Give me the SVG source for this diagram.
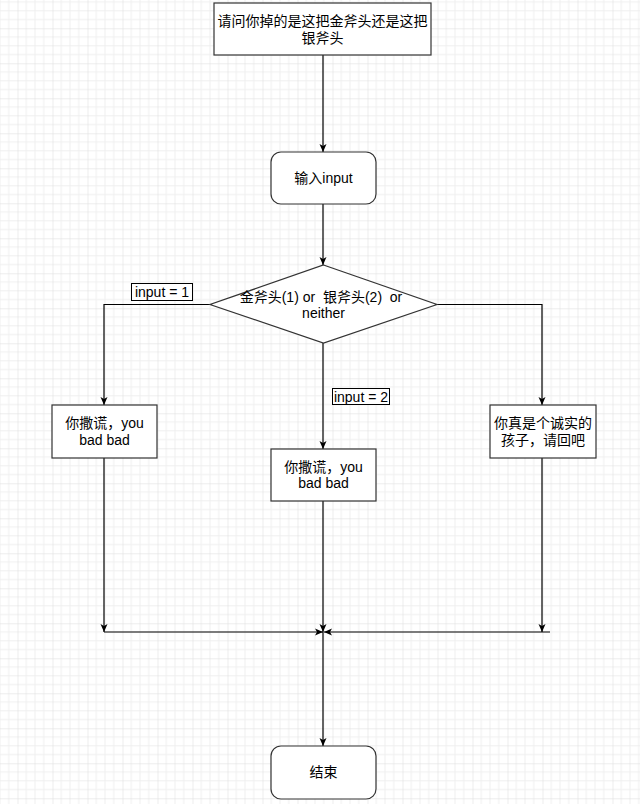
<svg xmlns="http://www.w3.org/2000/svg" width="640" height="804" viewBox="0 0 640 804">
<style>
.box{fill:#fff;stroke:#333;stroke-width:1.2}
.lbl{fill:#fff;stroke:#000;stroke-width:1}
.t{font-family:"Liberation Sans","Noto Sans CJK SC",sans-serif;font-size:14px;fill:#000;text-anchor:middle;white-space:pre}
.e{fill:none;stroke:#000;stroke-width:1.2}
</style>
<defs>
<pattern id="grid" patternUnits="userSpaceOnUse" x="17.5" y="28.3" width="35" height="35">
<path d="M8.75,0V35M17.5,0V35M26.25,0V35M0,8.75H35M0,17.5H35M0,26.25H35" stroke="#efefef" stroke-width="1" fill="none"/>
<path d="M0,0V35M0,0H35" stroke="#dcdcdc" stroke-width="1" fill="none"/>
</pattern>
<marker id="arr" viewBox="0 0 8 8" refX="8" refY="4" markerWidth="8" markerHeight="8" markerUnits="userSpaceOnUse" orient="auto">
<path d="M0,0.5L8,4L0,7.5L2,4z" fill="#000"/>
</marker>
</defs>
<rect width="640" height="804" fill="#fff"/>
<rect width="640" height="804" fill="url(#grid)"/>
<g id="edges">
<path class="e" d="M323,55V152" marker-end="url(#arr)"/>
<path class="e" d="M323,204V265" marker-end="url(#arr)"/>
<path class="e" d="M210,304.5H104V405" marker-end="url(#arr)"/>
<path class="e" d="M323,343V449" marker-end="url(#arr)"/>
<path class="e" d="M437,304.5H542V405" marker-end="url(#arr)"/>
<path class="e" d="M104,458V632" marker-end="url(#arr)"/>
<path class="e" d="M104,632H323" marker-end="url(#arr)"/>
<path class="e" d="M323,501V632" marker-end="url(#arr)"/>
<path class="e" d="M542,458V632" marker-end="url(#arr)"/>
<path class="e" d="M550,632H324" marker-end="url(#arr)"/>
<path class="e" d="M323,632V746" marker-end="url(#arr)"/>
</g>
<g id="lbl1">
<rect class="lbl" x="131.5" y="283.5" width="61" height="17"/>
<text class="t" x="162" y="297">input = 1</text>
</g>
<g id="lbl2">
<rect class="lbl" x="332.5" y="388.5" width="57" height="16"/>
<text class="t" x="361" y="401.5">input = 2</text>
</g>
<g id="question">
<rect class="box" x="214" y="3" width="217" height="52"/>
<text class="t" x="322.5" y="26">请问你掉的是这把金斧头还是这把</text>
<text class="t" x="322.5" y="43">银斧头</text>
</g>
<g id="input">
<rect class="box" x="271" y="152" width="105" height="52" rx="10"/>
<text class="t" x="323.5" y="183">输入input</text>
</g>
<g id="decision">
<polygon class="box" points="323.5,265 437,304.5 323.5,343 210,304.5"/>
<text class="t" x="321" y="302">金斧头(1) or  银斧头(2)  or</text>
<text class="t" x="323.5" y="318">neither</text>
</g>
<g id="lie1">
<rect class="box" x="52" y="405" width="105" height="53"/>
<text class="t" x="104.5" y="428">你撒谎，you</text>
<text class="t" x="104.5" y="445">bad bad</text>
</g>
<g id="lie2">
<rect class="box" x="271" y="449" width="105" height="52"/>
<text class="t" x="323.5" y="472">你撒谎，you</text>
<text class="t" x="323.5" y="488">bad bad</text>
</g>
<g id="honest">
<rect class="box" x="490" y="405" width="106" height="53"/>
<text class="t" x="543" y="428">你真是个诚实的</text>
<text class="t" x="543" y="445">孩子，请回吧</text>
</g>
<g id="end">
<rect class="box" x="271" y="746" width="105" height="53" rx="10"/>
<text class="t" x="323.5" y="777">结束</text>
</g>
</svg>
